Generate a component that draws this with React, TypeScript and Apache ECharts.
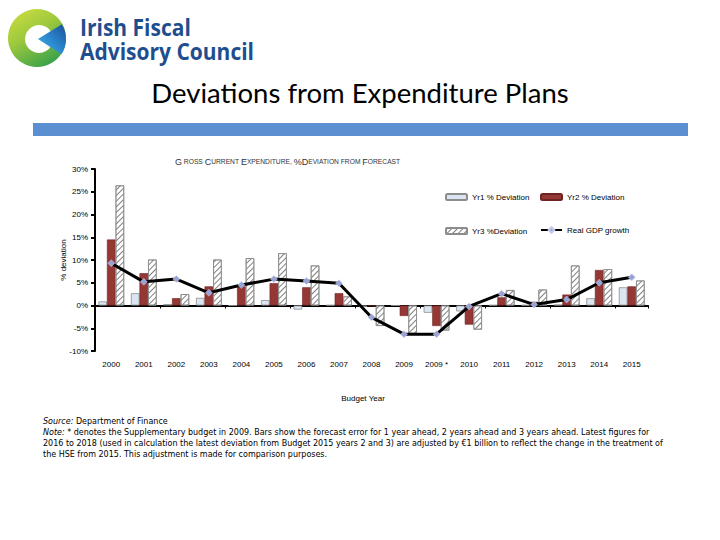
import React, { useEffect, useRef } from "react";
import * as echarts from "echarts";

const categories = ["2000", "2001", "2002", "2003", "2004", "2005", "2006", "2007", "2008", "2009", "2009 *", "2010", "2011", "2012", "2013", "2014", "2015"];
const yr1 = [0.9, 2.7, 0.3, 1.7, 0.0, 1.2, -0.9, 0.1, -0.3, 0.0, -1.6, -1.3, 0.1, 0.1, 0.2, 1.6, 4.0];
const yr2 = [14.5, 7.1, 1.6, 4.2, 4.2, 4.9, 4.0, 2.7, -0.1, -2.3, -4.5, -4.2, 1.8, 0.8, 2.4, 7.8, 4.2];
const yr3 = [26.4, 10.1, 2.5, 10.1, 10.4, 11.5, 8.8, 2.0, -4.5, -6.2, -5.5, -5.3, 3.4, 3.5, 8.8, 8.0, 5.5];
const gdp = [9.3, 5.2, 5.8, 2.8, 4.5, 5.8, 5.4, 4.9, -2.6, -6.3, -6.3, -0.2, 2.6, 0.2, 1.3, 5.0, 6.2];
const yMin = -10;
const yMax = 30;
const yStep = 5;

const noteLines = [
  "{i|Note:} * denotes the Supplementary budget in 2009. Bars show the forecast error for 1 year ahead, 2 years ahead and 3 years ahead. Latest figures for",
  "2016 to 2018 (used in calculation the latest deviation from Budget 2015 years 2 and 3) are adjusted by €1 billion to reflect the change in the treatment of",
  "the HSE from 2015. This adjustment is made for comparison purposes.",
];

const FONT = "Liberation Sans";
const NOTE_FONT = "DejaVu Sans";

export default function App() {
  const ref = useRef<HTMLDivElement>(null);
  useEffect(() => {
    document.body.style.margin = "0";
    const chart = echarts.init(ref.current!, null, { renderer: "svg" });
    const legendText = { fontFamily: FONT, fontSize: 8, color: "#000" };
    const hatch = {
      symbol: "rect",
      symbolSize: 1,
      color: "#808080",
      dashArrayX: [1, 0],
      dashArrayY: [1, 3],
      rotation: -Math.PI / 4,
    };
    const option: any = {
      animation: false,
      backgroundColor: "#fff",
      grid: { left: 95, right: 72, top: 169, bottom: 189, containLabel: false, outerBoundsMode: "none" },
      xAxis: [
        {
          type: "category",
          data: categories,
          position: "bottom",
          axisLine: { show: true, onZero: true, lineStyle: { color: "#000", width: 2 } },
          axisTick: { show: true, length: 3, lineStyle: { color: "#000", width: 1 } },
          axisLabel: { show: false },
          splitLine: { show: false },
        },
        {
          type: "category",
          data: categories,
          position: "bottom",
          axisLine: { show: false, onZero: false },
          axisTick: { show: false },
          axisLabel: { show: true, fontFamily: FONT, fontSize: 8, color: "#000", margin: 9 },
          splitLine: { show: false },
        },
      ],
      yAxis: {
        type: "value",
        min: yMin,
        max: yMax,
        interval: yStep,
        axisLine: { show: true, lineStyle: { color: "#000", width: 2 } },
        axisTick: { show: true, length: 4, lineStyle: { color: "#000", width: 2 } },
        splitLine: { show: false },
        axisLabel: { formatter: "{value}%", fontFamily: FONT, fontSize: 8, color: "#000", margin: 7 },
        name: "% deviation",
        nameLocation: "middle",
        nameGap: 28,
        nameMoveOverlap: false,
        nameTextStyle: { fontFamily: FONT, fontSize: 8, color: "#000" },
      },
      legend: [
        { data: ["Yr1 % Deviation"], left: 445, top: 193, itemWidth: 21, itemHeight: 6, textStyle: legendText, padding: 0 },
        { data: ["Yr2 % Deviation"], left: 540, top: 193, itemWidth: 21, itemHeight: 6, textStyle: legendText, padding: 0 },
        { data: ["Yr3 %Deviation"], left: 445, top: 227, itemWidth: 21, itemHeight: 6, textStyle: legendText, padding: 0 },
        { data: ["Real GDP growth"], left: 540, top: 226, itemWidth: 21, itemHeight: 7, textStyle: legendText, padding: 0 },
      ],
      series: [
        {
          name: "Yr1 % Deviation",
          type: "bar",
          data: yr1,
          barWidth: 8.6,
          barGap: "0%",
          itemStyle: { color: "#dce6f2", borderColor: "#8c8c8c", borderWidth: 0.8 },
        },
        {
          name: "Yr2 % Deviation",
          type: "bar",
          data: yr2,
          barWidth: 8.6,
          barGap: "0%",
          itemStyle: { color: "#953735", borderColor: "#6e2422", borderWidth: 0.6 },
        },
        {
          name: "Yr3 %Deviation",
          type: "bar",
          data: yr3,
          barWidth: 8.6,
          barGap: "0%",
          itemStyle: { color: "#ffffff", borderColor: "#8c8c8c", borderWidth: 0.8, decal: hatch },
        },
        {
          name: "Real GDP growth",
          type: "line",
          data: gdp,
          z: 5,
          symbol: "diamond",
          symbolSize: 7,
          lineStyle: { color: "#000", width: 3 },
          itemStyle: { color: "#9aa3d6", borderColor: "#c5cae9", borderWidth: 0.5 },
        },
      ],
      graphic: [
        {
          type: "circle",
          shape: { cx: 37, cy: 38, r: 29 },
          style: {
            fill: new echarts.graphic.LinearGradient(0, 0, 0.6, 1, [
              { offset: 0, color: "#d2e043" },
              { offset: 0.5, color: "#9cc83c" },
              { offset: 1, color: "#3fa34a" },
            ]),
          },
        },
        { type: "circle", shape: { cx: 39, cy: 39, r: 14 }, style: { fill: "#fff" } },
        {
          type: "sector",
          shape: { cx: 38, cy: 39, r: 28, r0: 0, startAngle: -0.55, endAngle: 0.58, clockwise: true },
          style: {
            fill: new echarts.graphic.LinearGradient(0, 1, 1, 0, [
              { offset: 0, color: "#41b4e6" },
              { offset: 0.5, color: "#2a86cc" },
              { offset: 1, color: "#1b4f9a" },
            ]),
          },
        },
        {
          type: "text",
          x: 80,
          y: 14,
          scaleY: 1.1,
          style: {
            text: "Irish Fiscal\nAdvisory Council",
            fontFamily: "Open Sans",
            fontWeight: "bold",
            fontSize: 21,
            lineHeight: 22,
            fill: "#1f4e8f",
          },
        },
        {
          type: "text",
          x: 360,
          y: 78,
          style: { text: "Deviations from Expenditure Plans", fontFamily: "Lato", fontSize: 27.5, fill: "#000", textAlign: "center" },
        },
        { type: "rect", shape: { x: 33, y: 123, width: 655, height: 13 }, style: { fill: "#5a8fd2" } },
        {
          type: "text",
          x: 175,
          y: 157,
          style: {
            text: "{a|G}{b| ROSS }{a|C}{b|URRENT }{a|E}{b|XPENDITURE, }{a|%D}{b|EVIATION FROM }{a|F}{b|ORECAST}",
            fill: "#333",
            rich: {
              a: { fontFamily: FONT, fontSize: 9, fill: "#333" },
              b: { fontFamily: FONT, fontSize: 6.7, fill: "#333" },
            },
          },
        },
        {
          type: "text",
          x: 363,
          y: 394,
          style: { text: "Budget Year", fontFamily: FONT, fontSize: 8, fill: "#000", textAlign: "center" },
        },
        {
          type: "text",
          x: 43,
          y: 417,
          style: {
            text: "{i|Source:} Department of Finance",
            fontFamily: NOTE_FONT,
            fontSize: 8,
            fill: "#000",
            rich: { i: { fontFamily: NOTE_FONT, fontSize: 8, fontStyle: "italic", fill: "#000" } },
          },
        },
        ...noteLines.map((t, k) => ({
          type: "text",
          x: 43,
          y: 428 + k * 11,
          style: {
            text: t,
            fontFamily: NOTE_FONT,
            fontSize: 8,
            fill: "#000",
            rich: { i: { fontFamily: NOTE_FONT, fontSize: 8, fontStyle: "italic", fill: "#000" } },
          },
        })),
      ],
    };
    chart.setOption(option);
    return () => chart.dispose();
  }, []);
  return <div ref={ref} style={{ position: "absolute", left: 0, top: 0, width: 720, height: 540 }} />;
}
